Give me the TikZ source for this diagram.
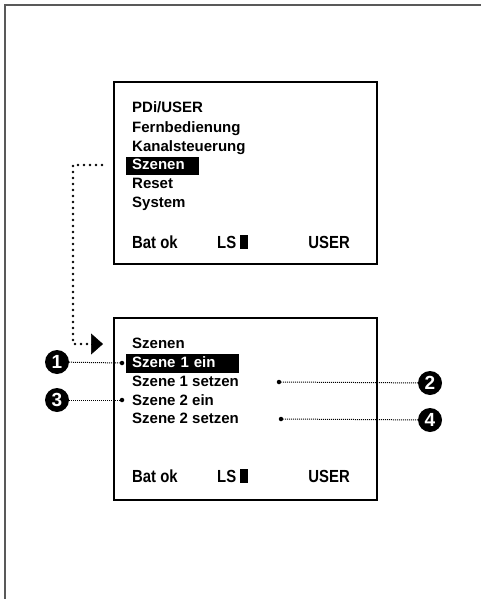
\documentclass[tikz,border=0pt]{standalone}
\usepackage{fontspec}
\setmainfont{Liberation Sans}
\newfontfamily\statfont[FakeStretch=0.85]{Liberation Sans}
\usetikzlibrary{arrows.meta,positioning}

\begin{document}
\begin{tikzpicture}[x=1pt,y=-1pt]
	\useasboundingbox (0,0) rectangle (481,599);
	\begin{scope}[
		frame/.style={draw=black!65,line width=2pt},
		screen/.style={rectangle,draw,line width=2pt,anchor=north west,minimum width=263pt,minimum height=182pt},
		menu/.style={anchor=base west,inner xsep=6pt,inner ysep=2pt,text height=11pt,text depth=3.5pt,font=\fontsize{15}{17}\selectfont\bfseries},
		status/.style={menu,font=\statfont\fontsize{17.5}{19}\selectfont\bfseries},
		sel/.style={menu,fill=black,text=white,text width=#1,align=left},
		num/.style={circle,fill=black,text=white,inner sep=0pt,minimum size=24pt,font=\fontsize{19}{19}\selectfont\bfseries},
		pin/.style={circle,fill=black,inner sep=0pt,minimum size=4.5pt},
		lead/.style={line width=1pt,dash pattern=on 1pt off 1pt},
		jump/.style={line width=2.6pt,line cap=round,dash pattern=on 0pt off 6pt}]
		\draw [frame] (481,5) -- (5,5) -- (5,599);
		% upper screen
		\node [screen]			(top)		at (113,81)		{};
		\node [menu]			(pdi)		at (126,113)	{PDi/USER};
		\node [menu]			(fern)		at (126,132)	{Fernbedienung};
		\node [menu]			(kanal)		at (126,151)	{Kanalsteuerung};
		\node [sel=61pt]		(szenen)	at (126,169.5)	{Szenen};
		\node [menu]			(reset)		at (126,188)	{Reset};
		\node [menu]			(system)	at (126,207)	{System};
		\node [status]			(bat1)		at (126,248)	{Bat ok};
		\node [status]			(ls1)		at (211,248)	{LS\hspace{4pt}\rule[-0.5pt]{8pt}{13.5pt}};
		\node [status,anchor=base east]	(user1)	at (356,248)	{USER};
		% lower screen
		\node [screen]			(bot)		at (113,317)	{};
		\node [menu]			(title)		at (126,348)	{Szenen};
		\node [sel=101pt]		(s1ein)		at (126,367)	{Szene 1 ein};
		\node [menu]			(s1set)		at (126,386)	{Szene 1 setzen};
		\node [menu]			(s2ein)		at (126,405)	{Szene 2 ein};
		\node [menu]			(s2set)		at (126,423)	{Szene 2 setzen};
		\node [status]			(bat2)		at (126,482)	{Bat ok};
		\node [status]			(ls2)		at (211,482)	{LS\hspace{4pt}\rule[-0.5pt]{8pt}{13.5pt}};
		\node [status,anchor=base east]	(user2)	at (356,482)	{USER};
		% jump from upper to lower screen
		\coordinate (src)		at (102,165);
		\coordinate (corner)	at (73,165);
		\coordinate (tip)		at (103,344);
		\draw [jump] (src) -- (corner) |- (tip);
		\draw [-{Triangle[length=12pt,width=21pt]},line width=0.5pt] ([xshift=-1pt]tip) -- (tip);
		% callouts
		\node [num]		(n1)	at (57,362)		{1};
		\node [num]		(n2)	at (430,383)	{2};
		\node [num]		(n3)	at (57,400)		{3};
		\node [num]		(n4)	at (430,420)	{4};
		\node [pin]		(p1)	at (122,363)	{};
		\node [pin]		(p2)	at (279,382)	{};
		\node [pin]		(p3)	at (122,400)	{};
		\node [pin]		(p4)	at (281,419)	{};
		\path
		(n1) edge [lead]	(p1)
		(n2) edge [lead]	(p2)
		(n3) edge [lead]	(p3)
		(n4) edge [lead]	(p4)
		;
	\end{scope}
\end{tikzpicture}
\end{document}
